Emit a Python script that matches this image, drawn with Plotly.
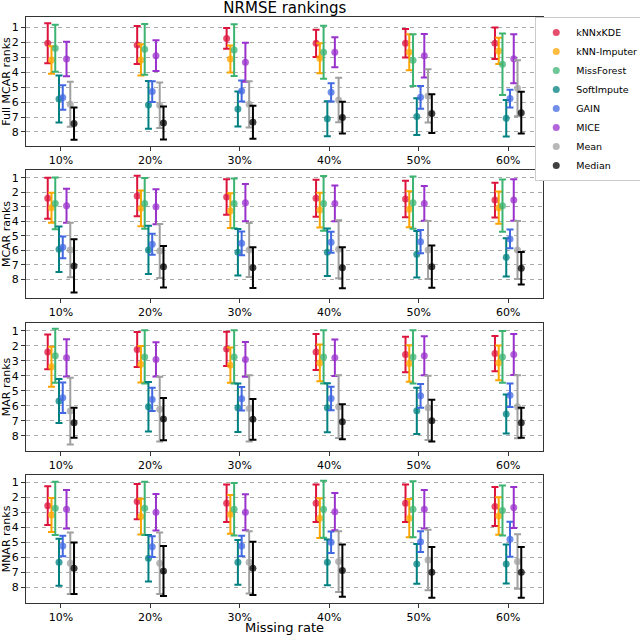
import plotly.graph_objects as go
from plotly.subplots import make_subplots

# missing rates on the x axis
rates = ['10%', '20%', '30%', '40%', '50%', '60%']
methods = ['kNNxKDE', 'kNN-Imputer', 'MissForest', 'SoftImpute', 'GAIN', 'MICE', 'Mean', 'Median']
colors = ['#DC143C', '#FFA500', '#3CB371', '#008080', '#4169E1', '#9932CC', '#A0A0A0', '#000000']
panels = ['Full MCAR ranks', 'MCAR ranks', 'MAR ranks', 'MNAR ranks']

# mean rank per method (rows) and missing rate (cols)
full_mcar_mean = [
    [2.07, 2.18, 1.74, 2.07, 2.07, 2.07],
    [3.18, 3.18, 3.12, 3.07, 2.67, 2.58],
    [2.40, 2.47, 2.52, 2.67, 3.20, 3.47],
    [5.79, 6.19, 6.46, 7.12, 6.97, 7.09],
    [5.70, 5.30, 5.26, 5.35, 5.68, 5.77],
    [3.12, 2.90, 3.34, 2.67, 2.90, 3.10],
    [6.15, 6.22, 6.15, 5.86, 5.59, 5.08],
    [7.44, 7.40, 7.35, 7.04, 6.77, 6.71],
]
full_mcar_std = [
    [1.34, 1.27, 0.70, 0.91, 0.95, 1.05],
    [0.92, 1.05, 0.90, 1.00, 1.20, 0.88],
    [1.57, 1.70, 1.73, 1.77, 1.73, 2.05],
    [1.57, 1.60, 1.17, 1.17, 1.23, 1.22],
    [0.82, 0.70, 0.70, 0.61, 0.76, 0.60],
    [1.15, 1.03, 1.30, 1.00, 1.45, 1.64],
    [1.50, 1.52, 1.55, 1.49, 1.78, 1.87],
    [1.08, 1.10, 1.10, 1.06, 1.30, 1.40],
]

mcar_mean = [
    [2.42, 2.26, 2.33, 2.42, 2.47, 2.54],
    [3.07, 3.11, 3.27, 3.23, 3.18, 3.07],
    [2.77, 2.77, 2.77, 2.77, 2.72, 2.93],
    [5.93, 5.98, 6.14, 6.14, 6.28, 6.49],
    [5.80, 5.59, 5.52, 5.45, 5.41, 5.22],
    [2.93, 3.00, 2.72, 2.77, 2.77, 2.54],
    [5.98, 6.05, 5.98, 5.93, 5.98, 5.98],
    [7.08, 7.13, 7.20, 7.20, 7.13, 7.24],
]
mcar_std = [
    [1.41, 1.40, 1.23, 1.27, 1.26, 1.20],
    [1.03, 1.23, 1.20, 1.20, 1.24, 1.11],
    [1.78, 1.75, 1.72, 1.88, 1.80, 1.80],
    [1.57, 1.66, 1.60, 1.64, 1.60, 1.32],
    [0.75, 0.72, 0.82, 0.72, 0.80, 0.65],
    [1.17, 1.20, 1.28, 1.23, 1.20, 1.43],
    [1.88, 1.86, 1.86, 2.00, 2.00, 2.00],
    [1.83, 1.43, 1.40, 1.41, 1.45, 1.12],
]

mar_mean = [
    [2.40, 2.24, 2.20, 2.40, 2.57, 2.51],
    [3.39, 3.22, 3.28, 3.13, 3.17, 3.13],
    [2.66, 2.73, 2.73, 2.73, 2.73, 2.73],
    [5.67, 6.05, 6.12, 6.12, 6.32, 6.54],
    [5.45, 5.56, 5.52, 5.50, 5.32, 5.28],
    [2.79, 2.90, 2.90, 2.79, 2.66, 2.57],
    [6.34, 6.21, 6.16, 6.05, 6.12, 6.05],
    [7.11, 6.87, 6.89, 7.05, 6.98, 7.11],
]
mar_std = [
    [1.16, 1.17, 1.14, 1.20, 1.19, 1.17],
    [1.33, 1.22, 1.18, 1.22, 1.21, 1.16],
    [1.80, 1.77, 1.77, 1.77, 1.77, 1.73],
    [1.46, 1.65, 1.62, 1.63, 1.54, 1.30],
    [1.02, 0.78, 0.78, 0.78, 0.79, 0.78],
    [1.24, 1.14, 1.16, 1.22, 1.30, 1.36],
    [2.22, 2.15, 2.20, 2.09, 2.14, 2.10],
    [1.00, 1.41, 1.36, 1.16, 1.39, 1.00],
]

mnar_mean = [
    [2.54, 2.27, 2.38, 2.38, 2.38, 2.60],
    [3.16, 3.27, 3.12, 3.38, 3.38, 3.23],
    [2.72, 2.72, 2.78, 2.78, 2.78, 2.87],
    [6.33, 6.06, 6.33, 6.33, 6.44, 6.44],
    [5.24, 5.28, 5.24, 4.99, 4.95, 4.79],
    [2.78, 2.98, 2.98, 2.94, 2.78, 2.67],
    [6.39, 6.39, 6.33, 6.28, 6.17, 6.28],
    [6.73, 6.91, 6.73, 6.88, 7.00, 7.00],
]
mnar_std = [
    [1.30, 1.18, 1.25, 1.25, 1.25, 1.30],
    [1.14, 1.20, 1.30, 1.33, 1.28, 1.25],
    [1.78, 1.78, 1.75, 1.90, 1.88, 1.67],
    [1.57, 1.56, 1.50, 1.53, 1.33, 1.30],
    [0.69, 0.69, 0.69, 0.72, 0.69, 1.17],
    [1.28, 1.22, 1.20, 1.25, 1.28, 1.37],
    [2.05, 2.06, 2.08, 2.03, 2.02, 1.82],
    [1.72, 1.67, 1.78, 1.75, 1.70, 1.70],
]

all_means = [full_mcar_mean, mcar_mean, mar_mean, mnar_mean]
all_stds = [full_mcar_std, mcar_std, mar_std, mnar_std]

FONT = 'DejaVu Sans'
offset = 0.042

fig = make_subplots(rows=4, cols=1)

for p in range(4):
    for m, name in enumerate(methods):
        xs = [i + 1 + (m - 3.5) * offset for i in range(len(rates))]
        fig.add_trace(go.Scatter(
            x=xs, y=all_means[p][m], mode='markers', name=name,
            legendgroup=name, showlegend=(p == 0),
            marker=dict(color=colors[m], size=7, opacity=0.75),
            error_y=dict(type='data', array=all_stds[p][m], visible=True,
                         color=colors[m], thickness=2, width=3.5),
        ), row=p + 1, col=1)

H_plot = 586
tops = [17, 170, 323, 475]
bottoms = [146, 298, 451, 603]
yranges = [[8.94, 0.31], [9.29, 0.47], [9.0, 0.47], [9.05, 0.49]]

for p in range(4):
    dom = [1 - (bottoms[p] - 17) / H_plot, 1 - (tops[p] - 17) / H_plot]
    fig.update_yaxes(
        domain=dom, range=yranges[p], tickvals=list(range(1, 9)),
        showgrid=True, gridcolor='#A8A8A8', griddash='4px,4px', gridwidth=1,
        zeroline=False, showline=True, mirror=True, linecolor='#333333',
        ticks='outside', ticklen=4, tickcolor='#333333',
        title=dict(text=panels[p], font=dict(size=11, family=FONT, color='black'), standoff=2),
        tickfont=dict(size=11, family=FONT, color='black'),
        automargin=False,
        row=p + 1, col=1)
    fig.update_xaxes(
        range=[0.61, 6.39], tickvals=list(range(1, 7)), ticktext=rates,
        showgrid=False, zeroline=False, showline=True, mirror=True, linecolor='#333333',
        ticks='outside', ticklen=4, tickcolor='#333333',
        tickfont=dict(size=11, family=FONT, color='black'),
        automargin=False,
        row=p + 1, col=1)

fig.update_xaxes(title=dict(text='Missing rate', font=dict(size=13, family=FONT, color='black'), standoff=1),
                 row=4, col=1)

fig.update_layout(
    width=640, height=635,
    margin=dict(l=26, r=97, t=17, b=32, autoexpand=False),
    plot_bgcolor='white', paper_bgcolor='white',
    title=dict(text='NRMSE rankings', x=0.445, xanchor='center', y=0.988, yanchor='middle',
               pad=dict(t=0, b=0), font=dict(size=15, family=FONT, color='black')),
    legend=dict(x=0.985, y=1.0, xanchor='left', yanchor='top', itemwidth=30,
                bordercolor='#CCCCCC', borderwidth=1, tracegroupgap=0,
                font=dict(size=9.5, family=FONT, color='black')),
    font=dict(family=FONT),
)

# drop the browser's default page margin so the figure sits at the window corner
fig.write_html('out.html', config={'displayModeBar': False},
               post_script="document.body.style.margin='0';")
